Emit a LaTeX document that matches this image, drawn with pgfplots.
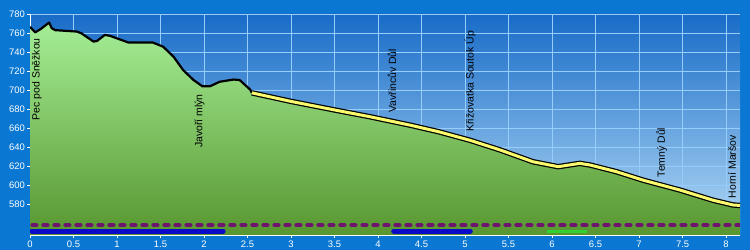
\documentclass[border=0pt]{standalone}
\usepackage{pgfplots}
\pgfplotsset{compat=1.18}
\usepackage{fontspec}
\setmainfont{Liberation Sans}
\definecolor{outerblue}{RGB}{10,120,210}
\definecolor{plottop}{RGB}{24,108,200}
\definecolor{plotbot}{RGB}{180,218,245}
\definecolor{gridblue}{RGB}{150,205,250}
\definecolor{greentop}{RGB}{165,238,150}
\definecolor{greenbot}{RGB}{88,150,48}
\definecolor{pathyellow}{RGB}{250,250,110}
\definecolor{dotpurple}{RGB}{110,20,110}
\definecolor{barblue}{RGB}{10,10,200}
\definecolor{bargreen}{RGB}{50,210,50}
\begin{document}
\begin{tikzpicture}
\useasboundingbox (0,0) rectangle (750bp,250bp);
\fill[outerblue] (0,0) rectangle (750bp,250bp);
\begin{axis}[
  at={(30bp,15bp)}, anchor=south west,
  scale only axis, width=710bp, height=221bp,
  xmin=0, xmax=8.16, ymin=547.4, ymax=780,
  xtick distance=0.5, ytick distance=20,
  ytick={580,600,...,780},
  axis background/.style={top color=plottop, bottom color=plotbot},
  axis x line*=bottom, axis y line*=left,
  axis line style={white, line width=0.8bp, -},
  grid=major,
  major grid style={gridblue, line width=0.6bp},
  tick style={white, line width=0.6bp},
  tick align=outside, major tick length=3bp,
  ticklabel style={white, font=\fontsize{9.5}{10}\selectfont},
  xticklabel style={yshift=1bp},
  yticklabel style={xshift=1.5bp},
  /pgf/number format/assume math mode=true,
  clip=true,
]
% green area under profile
\addplot[draw=none, top color=greentop, bottom color=greenbot] coordinates {
(0,766.5) (0.06,760.7) (0.12,764) (0.22,771) (0.25,765) (0.29,763) (0.54,761.5)
(0.59,759.7) (0.73,751) (0.77,751.6) (0.86,758) (0.92,757) (1.13,750) (1.41,750)
(1.53,745.6) (1.65,735) (1.76,721) (1.88,710.5) (1.98,704) (2.07,704) (2.18,708.7)
(2.34,711) (2.41,710.5) (2.53,700.5) (2.55,697) (3.0,688) (3.5,679) (3.9,672)
(4.37,663) (4.7,656) (5.06,647) (5.4,637) (5.78,624.5) (6.07,619.3) (6.32,622.8)
(6.44,621) (6.74,614) (7.05,605) (7.47,594.7) (7.85,584) (8.08,579) (8.16,578.5)
(8.16,547.4) (0,547.4)
};
% black part of the route
\addplot[black, line width=2.2bp, line join=round] coordinates {
(0,766.5) (0.06,760.7) (0.12,764) (0.22,771) (0.25,765) (0.29,763) (0.54,761.5)
(0.59,759.7) (0.73,751) (0.77,751.6) (0.86,758) (0.92,757) (1.13,750) (1.41,750)
(1.53,745.6) (1.65,735) (1.76,721) (1.88,710.5) (1.98,704) (2.07,704) (2.18,708.7)
(2.34,711) (2.41,710.5) (2.53,700.5) (2.55,697)
};
% yellow part with black outline
\addplot[black, line width=5.4bp, line join=round] coordinates {
(2.55,697) (3.0,688) (3.5,679) (3.9,672)
(4.37,663) (4.7,656) (5.06,647) (5.4,637) (5.78,624.5) (6.07,619.3) (6.32,622.8)
(6.44,621) (6.74,614) (7.05,605) (7.47,594.7) (7.85,584) (8.08,579) (8.16,578.5)
};
\addplot[pathyellow, line width=3bp, line join=round] coordinates {
(2.55,697) (3.0,688) (3.5,679) (3.9,672)
(4.37,663) (4.7,656) (5.06,647) (5.4,637) (5.78,624.5) (6.07,619.3) (6.32,622.8)
(6.44,621) (6.74,614) (7.05,605) (7.47,594.7) (7.85,584) (8.08,579) (8.16,578.5)
};
% bands
\addplot[dotpurple, line width=4.6bp, line cap=round, dash pattern=on 3.6bp off 7.4bp]
  coordinates {(0.03,557.9) (8.16,557.9)};
\addplot[barblue, line width=5bp, line cap=round] coordinates {(0.02,551.6) (2.22,551.6)};
\addplot[barblue, line width=5bp, line cap=round] coordinates {(4.18,551.6) (5.06,551.6)};
\addplot[bargreen, line width=3bp] coordinates {(5.94,551.6) (6.4,551.6)};
% place labels
\begin{scope}[every node/.style={rotate=90, anchor=west, inner sep=0pt, text=black, font=\fontsize{10.5}{11}\selectfont}]
\node at (axis cs:0.08,668) {Pec pod Sněžkou};
\node at (axis cs:1.95,639) {Javoří mlýn};
\node at (axis cs:4.16,676) {Vavřincův Důl};
\node at (axis cs:5.06,656) {Křižovatka Soutok Úp};
\node at (axis cs:7.26,608) {Temný Důl};
\node at (axis cs:8.07,586) {Horní Maršov};
\end{scope}
\end{axis}
\end{tikzpicture}
\end{document}
